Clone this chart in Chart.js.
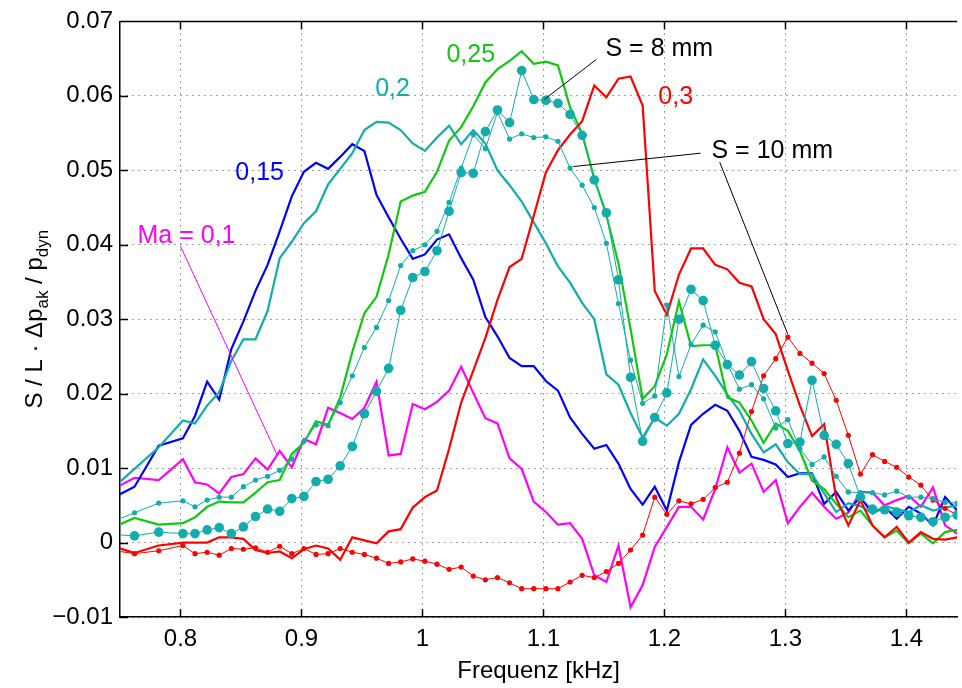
<!DOCTYPE html>
<html>
<head>
<meta charset="utf-8">
<title>Spektren</title>
<script src="https://cdn.jsdelivr.net/npm/chart.js@4.4.1/dist/chart.umd.min.js"></script>
<style>
    html, body { margin: 0; padding: 0; background: #ffffff; }
    #wrap { width: 962px; height: 688px; }
</style>
</head>
<body>
<div id="wrap"><canvas id="spectrum" width="962" height="688"></canvas></div>
<script>
// frequency axis in kHz (shared by all curves)
const freq = [
    0.742, 0.752, 0.762, 0.772, 0.782, 0.792, 0.802, 0.812, 0.822, 0.832,
    0.842, 0.852, 0.862, 0.872, 0.882, 0.892, 0.902, 0.912, 0.922, 0.932,
    0.942, 0.952, 0.962, 0.972, 0.982, 0.992, 1.002, 1.012, 1.022, 1.032,
    1.042, 1.052, 1.062, 1.072, 1.082, 1.092, 1.102, 1.112, 1.122, 1.132,
    1.142, 1.152, 1.162, 1.172, 1.182, 1.192, 1.202, 1.212, 1.222, 1.232,
    1.242, 1.252, 1.262, 1.272, 1.282, 1.292, 1.302, 1.312, 1.322, 1.332,
    1.342, 1.352, 1.362, 1.372, 1.382, 1.392, 1.402, 1.412, 1.422, 1.432,
    1.442
];

// thick lines: one curve per Mach number
const ma010 = [
    0.0070, null, 0.0087, null, 0.0084, null, 0.0112, 0.0081, 0.0078, 0.0066,
    0.0088, 0.0092, 0.0113, 0.0098, 0.0123, 0.0101, 0.0139, 0.0132, 0.0181, 0.0174,
    0.0166, 0.0181, 0.0216, 0.0117, 0.0119, 0.0186, 0.0179, 0.0189, 0.0204, 0.0236,
    0.0201, 0.0167, 0.0160, 0.0113, 0.0099, 0.0055, 0.0041, 0.0024, 0.0026, 0.0005,
    -0.0044, -0.0053, -0.0004, -0.0087, -0.0057, -0.0006, 0.0021, 0.0048, 0.0048, 0.0031,
    0.0072, 0.0128, 0.0094, 0.0106, 0.0068, 0.0084, 0.0026, 0.0048, 0.0067, 0.0048,
    0.0032, 0.0040, 0.0068, 0.0067, 0.0050, 0.0057, 0.0063, 0.0048, 0.0074, 0.0023,
    0.0012
];
const ma015 = [
    0.0058, null, 0.0075, null, 0.0130, null, 0.0140, 0.0170, 0.0216, 0.0192,
    0.0260, 0.0297, 0.0338, 0.0373, 0.0418, 0.0465, 0.0498, 0.0510, 0.0502, 0.0518,
    0.0535, 0.0526, 0.0467, 0.0437, 0.0408, 0.0381, 0.0387, 0.0407, 0.0414, 0.0382,
    0.0353, 0.0303, 0.0277, 0.0248, 0.0237, 0.0237, 0.0217, 0.0204, 0.0168, 0.0146,
    0.0126, 0.0131, 0.0106, 0.0072, 0.0051, 0.0075, 0.0043, 0.0108, 0.0158, 0.0173,
    0.0185, 0.0177, 0.0150, 0.0115, 0.0111, 0.0105, 0.0088, 0.0093, 0.0093, 0.0052,
    0.0068, 0.0043, 0.0061, 0.0039, 0.0048, 0.0032, 0.0048, 0.0039, 0.0023, 0.0061,
    0.0043
];
const ma020 = [
    0.0070, null, 0.0099, null, 0.0128, null, 0.0164, 0.0160, 0.0184, 0.0202,
    0.0244, 0.0273, 0.0273, 0.0311, 0.0382, 0.0404, 0.0429, 0.0445, 0.0481, 0.0502,
    0.0523, 0.0554, 0.0565, 0.0564, 0.0554, 0.0536, 0.0526, 0.0544, 0.0560, 0.0535,
    0.0554, 0.0536, 0.0500, 0.0480, 0.0458, 0.0430, 0.0402, 0.0371, 0.0349, 0.0322,
    0.0300, 0.0226, 0.0212, 0.0174, 0.0141, 0.0168, 0.0157, 0.0173, 0.0206, 0.0246,
    0.0224, 0.0199, 0.0177, 0.0146, 0.0121, 0.0132, 0.0108, 0.0092, 0.0092, 0.0066,
    0.0041, 0.0053, 0.0049, 0.0039, 0.0049, 0.0045, 0.0041, 0.0050, 0.0043, 0.0047,
    0.0050
];
const ma025 = [
    0.0019, null, 0.0033, null, 0.0024, null, 0.0026, 0.0034, 0.0048, 0.0055,
    0.0054, 0.0054, 0.0067, 0.0081, 0.0084, 0.0119, 0.0134, 0.0163, 0.0158, 0.0195,
    0.0256, 0.0308, 0.0330, 0.0387, 0.0458, 0.0466, 0.0471, 0.0498, 0.0540, 0.0558,
    0.0586, 0.0618, 0.0636, 0.0647, 0.0660, 0.0643, 0.0646, 0.0641, 0.0585, 0.0549,
    0.0489, 0.0440, 0.0375, 0.0287, 0.0193, 0.0210, 0.0253, 0.0324, 0.0264, 0.0265,
    0.0265, 0.0195, 0.0188, 0.0164, 0.0134, 0.0160, 0.0150, 0.0123, 0.0083, 0.0072,
    0.0052, 0.0034, 0.0043, 0.0023, 0.0007, 0.0016, -0.0001, 0.0012, -0.0001, 0.0014,
    0.0017
];
const ma030 = [
    -0.0004, null, -0.0014, null, -0.0004, null, 0.0000, 0.0000, 0.0000, 0.0007,
    0.0007, 0.0005, -0.0010, -0.0014, -0.0012, -0.0021, -0.0009, -0.0004, -0.0008, -0.0023,
    0.0007, 0.0003, -0.0001, 0.0015, 0.0018, 0.0047, 0.0061, 0.0070, 0.0126, 0.0188,
    0.0231, 0.0275, 0.0326, 0.0370, 0.0381, 0.0439, 0.0497, 0.0527, 0.0548, 0.0566,
    0.0614, 0.0598, 0.0623, 0.0626, 0.0587, 0.0338, 0.0306, 0.0360, 0.0395, 0.0395,
    0.0373, 0.0367, 0.0349, 0.0344, 0.0300, 0.0280, 0.0231, 0.0184, 0.0143, 0.0159,
    0.0060, 0.0023, 0.0057, 0.0023, 0.0007, 0.0021, 0.0000, 0.0014, 0.0005, 0.0004,
    0.0007
];

// thin lines with markers: slot width S = 8 mm and S = 10 mm
const s8ma020 = [
    0.0011, null, 0.0009, null, 0.0014, null, 0.0012, 0.0012, 0.0017, 0.0020,
    0.0012, 0.0021, 0.0035, 0.0045, 0.0042, 0.0059, 0.0062, 0.0082, 0.0085, 0.0103,
    0.0129, 0.0173, 0.0203, 0.0234, 0.0312, 0.0356, 0.0364, 0.0392, 0.0445, 0.0497,
    0.0496, 0.0552, 0.0581, 0.0564, 0.0634, 0.0595, 0.0594, 0.0590, 0.0575, 0.0547,
    0.0487, 0.0443, 0.0353, 0.0222, 0.0136, 0.0168, 0.0201, 0.0300, 0.0340, 0.0325,
    0.0265, 0.0239, 0.0225, 0.0243, 0.0207, 0.0177, 0.0133, 0.0135, 0.0218, 0.0144,
    0.0132, 0.0106, 0.0061, 0.0045, 0.0044, 0.0041, 0.0036, 0.0034, 0.0028, 0.0034,
    0.0037
];
const s10ma020 = [
    0.0027, null, 0.0040, null, 0.0053, null, 0.0056, 0.0048, 0.0057, 0.0061,
    0.0061, 0.0075, 0.0084, 0.0089, 0.0097, 0.0112, 0.0136, 0.0158, 0.0157, 0.0188,
    0.0224, 0.0262, 0.0289, 0.0325, 0.0372, 0.0392, 0.0400, 0.0418, 0.0457, 0.0503,
    0.0548, 0.0529, 0.0578, 0.0542, 0.0549, 0.0544, 0.0545, 0.0539, 0.0503, 0.0480,
    0.0450, 0.0402, 0.0321, 0.0245, 0.0187, 0.0197, 0.0319, 0.0223, 0.0266, 0.0292,
    0.0283, 0.0240, 0.0206, 0.0212, 0.0193, 0.0154, 0.0165, 0.0126, 0.0105, 0.0115,
    0.0089, 0.0068, 0.0067, 0.0067, 0.0064, 0.0069, 0.0061, 0.0061, 0.0059, 0.0054,
    0.0053
];
const s10ma030 = [
    -0.0010, null, -0.0015, null, -0.0011, null, -0.0004, -0.0015, -0.0013, -0.0017,
    -0.0008, -0.0009, -0.0007, -0.0013, -0.0005, -0.0015, -0.0008, -0.0016, -0.0015, -0.0008,
    -0.0013, -0.0016, -0.0021, -0.0028, -0.0026, -0.0022, -0.0025, -0.0029, -0.0036, -0.0033,
    -0.0045, -0.0050, -0.0047, -0.0054, -0.0062, -0.0062, -0.0062, -0.0062, -0.0053, -0.0044,
    -0.0047, -0.0039, -0.0028, -0.0010, 0.0010, 0.0061, 0.0038, 0.0056, 0.0052, 0.0058,
    0.0074, 0.0081, 0.0120, 0.0176, 0.0224, 0.0247, 0.0276, 0.0254, 0.0241, 0.0227,
    0.0191, 0.0144, 0.0092, 0.0118, 0.0109, 0.0101, 0.0088, 0.0077, 0.0057, 0.0046,
    0.0037
];

const xTicks = [0.8, 0.9, 1.0, 1.1, 1.2, 1.3, 1.4];
const yTicks = [-0.01, 0, 0.01, 0.02, 0.03, 0.04, 0.05, 0.06, 0.07];

const MAGENTA = '#ff00ff';
const BLUE = '#0000ff';
const TEAL = '#12acac';
const GREEN = '#11c811';
const RED = '#ff0000';

// curve labels, placed in data coordinates (left end of the baseline)
const labels = [
    { text: 'Ma = 0,1', color: MAGENTA, x: 0.7645, y: 0.0403 },
    { text: '0,15', color: BLUE, x: 0.8453, y: 0.0487 },
    { text: '0,2', color: TEAL, x: 0.9609, y: 0.0600 },
    { text: '0,25', color: GREEN, x: 1.0198, y: 0.0645 },
    { text: '0,3', color: RED, x: 1.1950, y: 0.0589 },
    { text: 'S = 8 mm', color: '#000000', x: 1.1513, y: 0.0654 },
    { text: 'S = 10 mm', color: '#000000', x: 1.2389, y: 0.0516 }
];
const leaders = [
    { color: MAGENTA, from: [0.8000, 0.0398], to: [0.8795, 0.0119] },
    { color: '#000000', from: [1.1438, 0.0649], to: [1.1006, 0.0595] },
    { color: '#000000', from: [1.2299, 0.0523], to: [1.1247, 0.0505] },
    { color: '#000000', from: [1.2457, 0.0511], to: [1.3019, 0.0280] }
];

const FONT = '"Liberation Sans", Arial, Helvetica, sans-serif';
Chart.defaults.font.family = FONT;
Chart.defaults.color = '#000000';

function points(values) {
    return freq.map((f, i) => ({ x: f, y: values[i] }));
}

function thick(values, color) {
    return {
        data: points(values), borderColor: color, backgroundColor: color,
        borderWidth: 2.2, pointRadius: 0, tension: 0, spanGaps: true, clip: 0
    };
}

function marked(values, color, radius) {
    return {
        data: points(values), borderColor: color, backgroundColor: color,
        borderWidth: 1, pointRadius: radius, pointBorderWidth: 0,
        pointHoverRadius: radius, tension: 0, spanGaps: true, clip: 0
    };
}

// y axis title with subscripts, rotated
function drawYTitle(ctx, cx, cy) {
    const parts = [
        ['S / L \u00b7 \u0394p', false],
        ['ak', true],
        [' / p', false],
        ['dyn', true]
    ];
    const big = '24px ' + FONT;
    const small = '17px ' + FONT;
    let total = 0;
    parts.forEach(p => { ctx.font = p[1] ? small : big; total += ctx.measureText(p[0]).width; });
    ctx.save();
    ctx.translate(cx, cy);
    ctx.rotate(-Math.PI / 2);
    ctx.fillStyle = '#000000';
    ctx.textBaseline = 'alphabetic';
    ctx.textAlign = 'left';
    let pos = -total / 2;
    parts.forEach(p => {
        ctx.font = p[1] ? small : big;
        ctx.fillText(p[0], pos, p[1] ? 14 : 8);
        pos += ctx.measureText(p[0]).width;
    });
    ctx.restore();
}

const decorations = {
    id: 'decorations',
    afterDatasetsDraw(chart) {
        const { ctx, chartArea: a, scales: { x, y } } = chart;
        ctx.save();

        leaders.forEach(l => {
            ctx.strokeStyle = l.color;
            ctx.lineWidth = 1;
            ctx.beginPath();
            ctx.moveTo(x.getPixelForValue(l.from[0]), y.getPixelForValue(l.from[1]));
            ctx.lineTo(x.getPixelForValue(l.to[0]), y.getPixelForValue(l.to[1]));
            ctx.stroke();
        });

        ctx.font = '25px ' + FONT;
        ctx.textAlign = 'left';
        ctx.textBaseline = 'alphabetic';
        labels.forEach(t => {
            ctx.fillStyle = t.color;
            ctx.fillText(t.text, x.getPixelForValue(t.x), y.getPixelForValue(t.y));
        });

        // box top edge and inward tick marks
        ctx.strokeStyle = '#000000';
        ctx.lineWidth = 1.5;
        ctx.beginPath();
        ctx.moveTo(a.left, a.top);
        ctx.lineTo(a.right, a.top);
        const tl = 8;
        xTicks.forEach(v => {
            const px = Math.round(x.getPixelForValue(v)) + 0.5;
            ctx.moveTo(px, a.top); ctx.lineTo(px, a.top + tl);
            ctx.moveTo(px, a.bottom); ctx.lineTo(px, a.bottom - tl);
        });
        yTicks.forEach(v => {
            const py = Math.round(y.getPixelForValue(v)) + 0.5;
            ctx.moveTo(a.left, py); ctx.lineTo(a.left + tl, py);
        });
        ctx.stroke();
        ctx.restore();
    },
    afterDraw(chart) {
        const a = chart.chartArea;
        drawYTitle(chart.ctx, 34, (a.top + a.bottom) / 2);
    }
};

function fmtX(v) {
    return String(Math.round(v * 10) / 10);
}

function fmtY(v) {
    const r = Math.round(v * 100) / 100;
    if (r === 0) return '0';
    return r < 0 ? '\u2212' + (-r).toFixed(2) : r.toFixed(2);
}

const ctx = document.getElementById('spectrum');
new Chart(ctx.getContext('2d'), {
    type: 'line',
    data: {
        datasets: [
            marked(s8ma020, TEAL, 4.8),
            marked(s10ma020, TEAL, 2.6),
            marked(s10ma030, RED, 2.6),
            thick(ma030, RED),
            thick(ma025, GREEN),
            thick(ma020, TEAL),
            thick(ma015, BLUE),
            thick(ma010, MAGENTA)
        ]
    },
    options: {
        responsive: false,
        animation: false,
        events: [],
        layout: { padding: { top: 19, left: 0, right: 0, bottom: 0 } },
        plugins: {
            legend: { display: false },
            tooltip: { enabled: false }
        },
        scales: {
            x: {
                type: 'linear',
                min: 0.75,
                max: 1.442,
                afterFit: s => { s.height = 71; },
                afterBuildTicks: s => { s.ticks = xTicks.map(v => ({ value: v })); },
                ticks: { font: { size: 24 }, color: '#000000', padding: 8, callback: fmtX, maxRotation: 0 },
                grid: { color: '#444444', lineWidth: 1, drawTicks: false },
                border: { display: true, color: '#000000', width: 1.5, dash: [1, 5] },
                title: { display: true, text: 'Frequenz [kHz]', font: { size: 24 }, color: '#000000', padding: { top: 0, bottom: 2 } }
            },
            y: {
                type: 'linear',
                min: -0.01,
                max: 0.07,
                afterFit: s => { s.width = 120; },
                afterBuildTicks: s => { s.ticks = yTicks.map(v => ({ value: v })); },
                ticks: { font: { size: 24 }, color: '#000000', padding: 7, callback: fmtY },
                grid: { color: '#444444', lineWidth: 1, drawTicks: false },
                border: { display: true, color: '#000000', width: 1.5, dash: [1, 5] }
            }
        }
    },
    plugins: [decorations]
});
</script>
</body>
</html>
